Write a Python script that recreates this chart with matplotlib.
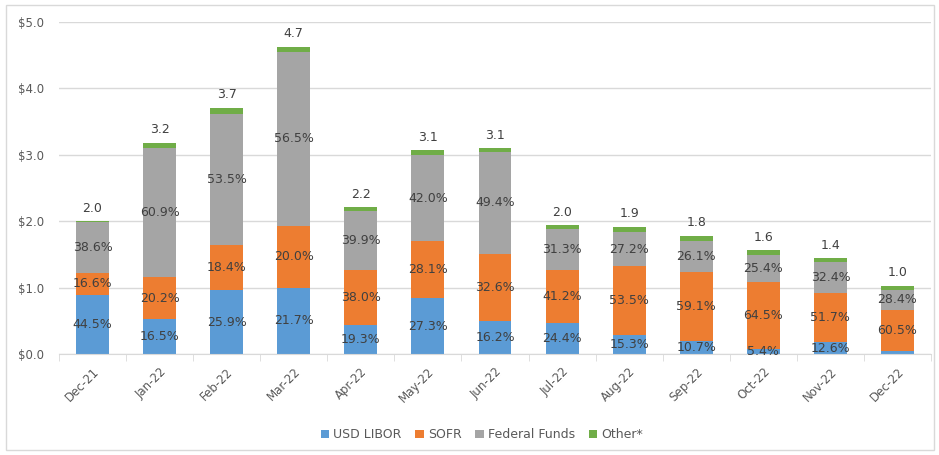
import matplotlib.pyplot as plt
import numpy as np
from matplotlib.patches import Rectangle

months = ['Dec-21', 'Jan-22', 'Feb-22', 'Mar-22', 'Apr-22', 'May-22', 'Jun-22',
          'Jul-22', 'Aug-22', 'Sep-22', 'Oct-22', 'Nov-22', 'Dec-22']

# dollar amounts per segment
libor = [0.89, 0.52, 0.96, 1.00, 0.43, 0.84, 0.50, 0.47, 0.29, 0.19, 0.08, 0.18, 0.05]
sofr = [0.33, 0.64, 0.68, 0.93, 0.84, 0.86, 1.01, 0.80, 1.03, 1.05, 1.01, 0.74, 0.62]
fedfunds = [0.77, 1.94, 1.98, 2.62, 0.88, 1.29, 1.53, 0.61, 0.52, 0.46, 0.40, 0.47, 0.29]
other = [0.01, 0.08, 0.09, 0.08, 0.06, 0.08, 0.06, 0.06, 0.08, 0.08, 0.07, 0.05, 0.07]

# labels shown on the chart
libor_pct = ['44.5%', '16.5%', '25.9%', '21.7%', '19.3%', '27.3%', '16.2%',
             '24.4%', '15.3%', '10.7%', '5.4%', '12.6%', '']
sofr_pct = ['16.6%', '20.2%', '18.4%', '20.0%', '38.0%', '28.1%', '32.6%',
            '41.2%', '53.5%', '59.1%', '64.5%', '51.7%', '60.5%']
ff_pct = ['38.6%', '60.9%', '53.5%', '56.5%', '39.9%', '42.0%', '49.4%',
          '31.3%', '27.2%', '26.1%', '25.4%', '32.4%', '28.4%']
totals = ['2.0', '3.2', '3.7', '4.7', '2.2', '3.1', '3.1', '2.0', '1.9', '1.8', '1.6', '1.4', '1.0']

series = [('USD LIBOR', libor, libor_pct, '#5b9bd5'),
          ('SOFR', sofr, sofr_pct, '#ed7d31'),
          ('Federal Funds', fedfunds, ff_pct, '#a5a5a5'),
          ('Other*', other, None, '#70ad47')]

txt = '#404040'
axc = '#595959'

fig = plt.figure(figsize=(9.39, 4.55), dpi=100)
fig.patches.append(Rectangle((0.006, 0.011), 0.989, 0.978, transform=fig.transFigure,
                             fill=False, edgecolor='#d9d9d9', linewidth=1))
ax = fig.add_axes([0.0628, 0.222, 0.9287, 0.7296])

x = np.arange(len(months))
bottom = np.zeros(len(months))
for name, vals, labels, col in series:
    vals = np.array(vals)
    ax.bar(x, vals, 0.49, bottom=bottom, color=col, label=name, zorder=2)
    if labels is not None:
        for i in range(len(x)):
            if labels[i]:
                ax.text(x[i], bottom[i] + vals[i] / 2, labels[i], ha='center', va='center',
                        fontsize=9, color=txt, zorder=3)
    bottom = bottom + vals

for i in range(len(x)):
    ax.text(x[i], bottom[i] + 0.1, totals[i], ha='center', va='bottom', fontsize=9, color=txt)

ax.set_xlim(-0.5, len(months) - 0.5)
ax.set_ylim(0, 5)
ax.set_yticks(np.arange(0, 5.01, 1))
ax.set_yticklabels(['$%.1f' % v for v in np.arange(0, 5.01, 1)])
ax.grid(axis='y', color='#d9d9d9', linewidth=1, zorder=0)
ax.set_xticks(x)
ax.set_xticklabels(months, rotation=45, ha='right', rotation_mode='anchor')
ax.set_xticks(np.arange(-0.5, len(months)), minor=True)
ax.tick_params(axis='x', which='major', length=0, pad=8, labelsize=8.5, labelcolor=axc)
ax.tick_params(axis='x', which='minor', length=5, color='#d9d9d9')
ax.tick_params(axis='y', length=0, labelsize=8.5, labelcolor=axc, pad=11)
for s in ['top', 'right', 'left']:
    ax.spines[s].set_visible(False)
ax.spines['bottom'].set_color('#d9d9d9')

ax.legend(loc='center', bbox_to_anchor=(0.513, 0.044), bbox_transform=fig.transFigure,
          ncol=4, frameon=False, fontsize=9, handlelength=0.7, handleheight=0.7,
          handletextpad=0.3, columnspacing=1.1, labelcolor=axc)

fig.savefig('out.png', dpi=100)
